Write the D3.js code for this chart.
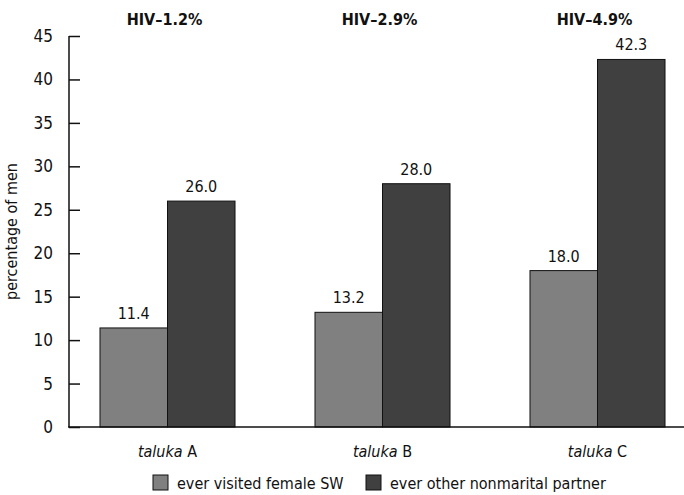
<!DOCTYPE html>
<html>
<head>
<meta charset="utf-8">
<script src="https://cdn.jsdelivr.net/npm/d3@7"></script>
<style>
  body { margin: 0; background: #fff; }
  text { font-family: 'Liberation Sans Narrow', 'DejaVu Sans Condensed', sans-serif; fill: #111; }
</style>
</head>
<body>
<div id="chart"></div>
<script>
let width = 684
let height = 495

let talukas = ['A', 'B', 'C']
let hivLabels = ['HIV–1.2%', 'HIV–2.9%', 'HIV–4.9%']
let seriesNames = ['ever visited female SW', 'ever other nonmarital partner']
let visitedSW = [11.4, 13.2, 18.0]
let otherPartner = [26.0, 28.0, 42.3]
let yTicks = [0, 5, 10, 15, 20, 25, 30, 35, 40, 45]

let colors = ['#808080', '#404040']

let svg = d3.select('#chart')
  .append('svg')
  .attr('width', width)
  .attr('height', height)

let yScale = d3.scaleLinear().domain([0, 45]).range([427, 36])

let xScale = d3.scaleBand()
  .domain(talukas)
  .range([60, 705])
  .paddingInner(0.372)
  .paddingOuter(0.186)

let subScale = d3.scaleBand()
  .domain([0, 1])
  .range([0, xScale.bandwidth()])

let rows = talukas.map((t, i) => ({
  taluka: t,
  hiv: hivLabels[i],
  values: [visitedSW[i], otherPartner[i]]
}))

// bars
let groups = svg.selectAll('.group')
  .data(rows)
  .enter()
  .append('g')
  .attr('class', 'group')
  .attr('transform', d => `translate(${xScale(d.taluka)},0)`)

groups.selectAll('rect')
  .data(d => d.values)
  .enter()
  .append('rect')
  .attr('x', (d, i) => subScale(i))
  .attr('y', d => yScale(d))
  .attr('width', subScale.bandwidth())
  .attr('height', d => yScale(0) - yScale(d))
  .attr('fill', (d, i) => colors[i])
  .attr('stroke', '#111')
  .attr('stroke-width', 1)

groups.selectAll('.value')
  .data(d => d.values)
  .enter()
  .append('text')
  .attr('class', 'value')
  .attr('x', (d, i) => subScale(i) + subScale.bandwidth() / 2)
  .attr('y', d => yScale(d) - 9)
  .attr('text-anchor', 'middle')
  .attr('font-size', 16)
  .text(d => d.toFixed(1))

// hiv labels on top
groups.append('text')
  .attr('x', xScale.bandwidth() / 2 - 3)
  .attr('y', 25)
  .attr('text-anchor', 'middle')
  .attr('font-size', 16)
  .attr('font-weight', 'bold')
  .text(d => d.hiv)

// category labels
let cat = groups.append('text')
  .attr('x', xScale.bandwidth() / 2)
  .attr('y', 457)
  .attr('text-anchor', 'middle')
  .attr('font-size', 16)
cat.append('tspan').attr('font-style', 'italic').text('taluka')
cat.append('tspan').text(d => ' ' + d.taluka)

// y axis
let yAxis = d3.axisRight(yScale)
  .tickValues(yTicks)
  .tickSize(11)
  .tickFormat(d => d)

let yg = svg.append('g')
  .attr('transform', 'translate(69,0)')
  .call(yAxis)
yg.select('.domain').remove()
yg.selectAll('.tick line').attr('stroke', '#111').attr('stroke-width', 1.5)
yg.selectAll('.tick text')
  .attr('x', -16)
  .attr('text-anchor', 'end')
  .attr('font-size', 17)
  .attr('font-family', null)
  .attr('fill', '#111')

svg.append('line')
  .attr('x1', 69).attr('x2', 69)
  .attr('y1', yScale(45)).attr('y2', yScale(0))
  .attr('stroke', '#111').attr('stroke-width', 1.5)

svg.append('line')
  .attr('x1', 68).attr('x2', 684)
  .attr('y1', yScale(0)).attr('y2', yScale(0))
  .attr('stroke', '#111').attr('stroke-width', 1.5)

svg.append('text')
  .attr('transform', `translate(17,${(yScale(0) + yScale(45)) / 2}) rotate(-90)`)
  .attr('text-anchor', 'middle')
  .attr('font-size', 16)
  .text('percentage of men')

// legend
let legend = svg.append('g').attr('transform', 'translate(0,489)')
let legendX = [153, 366]
seriesNames.forEach((name, i) => {
  legend.append('rect')
    .attr('x', legendX[i])
    .attr('y', -14)
    .attr('width', 15)
    .attr('height', 15)
    .attr('fill', colors[i])
    .attr('stroke', '#111')
  legend.append('text')
    .attr('x', legendX[i] + 24)
    .attr('y', 0)
    .attr('font-size', 16)
    .text(name)
})
</script>
</body>
</html>
